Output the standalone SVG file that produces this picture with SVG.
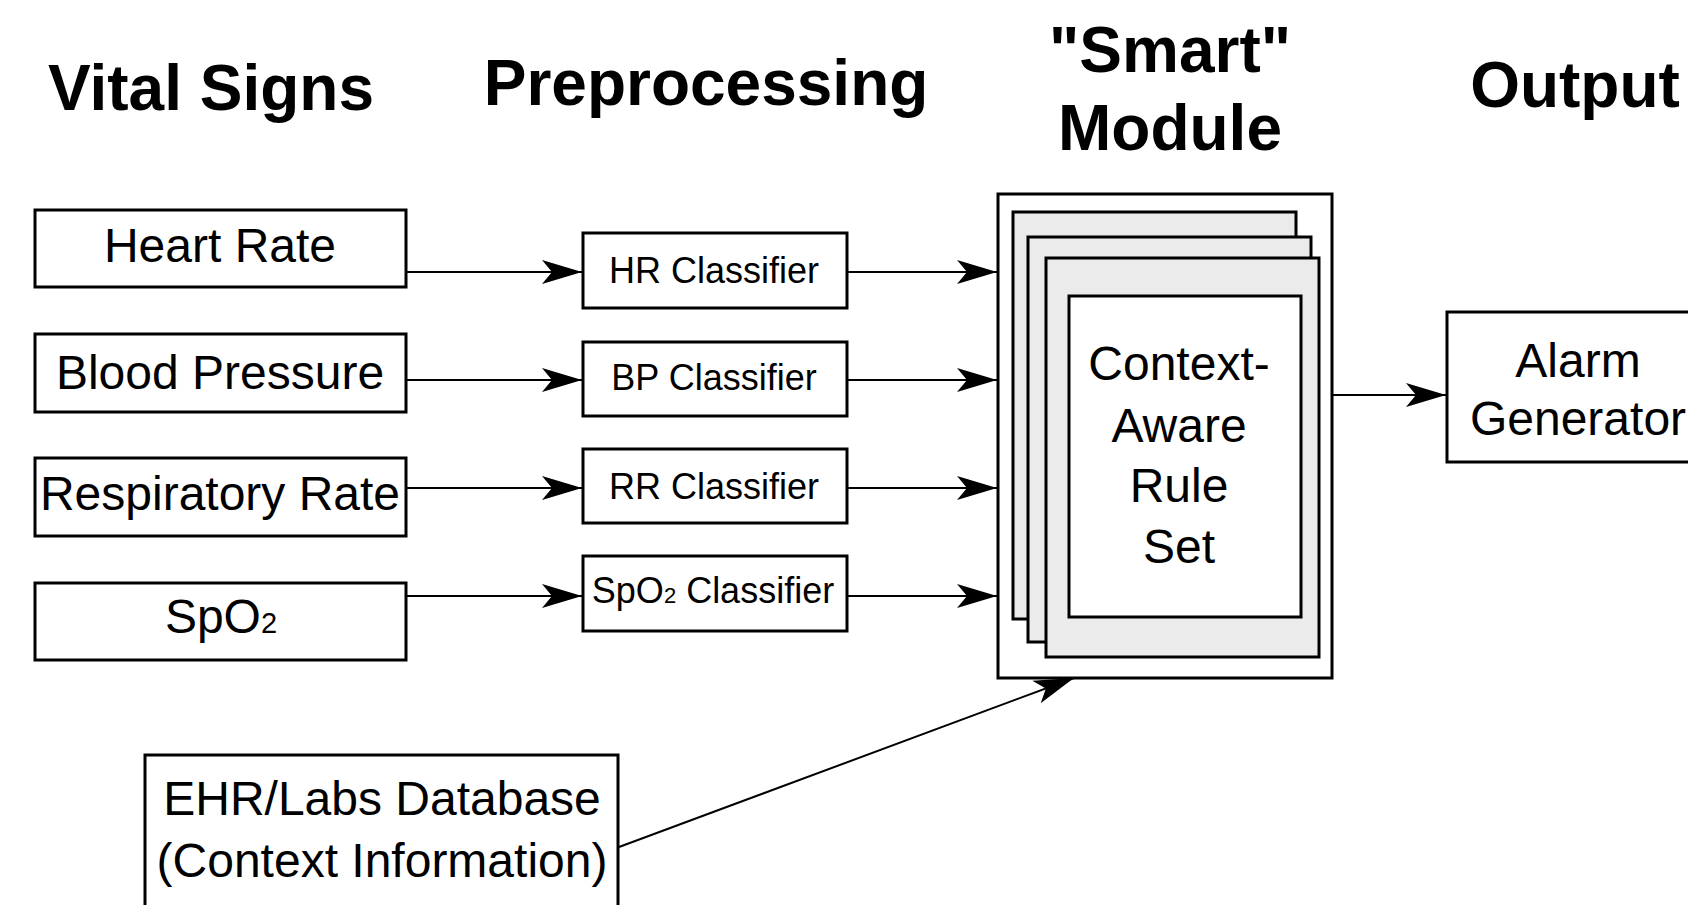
<svg xmlns="http://www.w3.org/2000/svg" width="1688" height="905" viewBox="0 0 1688 905">
<style>
  .box { fill: #ffffff; stroke: #000000; stroke-width: 3; }
  .sheet { fill: #ebebeb; stroke: #000000; stroke-width: 3; }
  .conn { fill: none; stroke: #000000; stroke-width: 2; }
  .title { font-family: "Liberation Sans", Arial, sans-serif; font-weight: bold; font-size: 64px; fill: #000; text-anchor: middle; }
  .lbl { font-family: "Liberation Sans", Arial, sans-serif; font-size: 48px; fill: #000; text-anchor: middle; }
  .cls { font-family: "Liberation Sans", Arial, sans-serif; font-size: 36px; fill: #000; text-anchor: middle; }
</style>
<defs>
  <marker id="arr" markerUnits="userSpaceOnUse" markerWidth="44" markerHeight="30" viewBox="-42 -15 44 30" refX="0" refY="0" orient="auto">
    <path d="M0,0 L-40,-12 L-30,0 L-40,12 Z" fill="#000"/>
  </marker>
</defs>
<rect width="1688" height="905" fill="#ffffff"/>

<g id="headers">
  <text class="title" x="211" y="110">Vital Signs</text>
  <text class="title" x="706" y="105">Preprocessing</text>
  <text class="title" x="1170" y="72">"Smart"</text>
  <text class="title" x="1170" y="150">Module</text>
  <text class="title" x="1575" y="107">Output</text>
</g>

<g id="connectors">
  <line class="conn" x1="406" y1="272" x2="582" y2="272" marker-end="url(#arr)"/>
  <line class="conn" x1="406" y1="380" x2="582" y2="380" marker-end="url(#arr)"/>
  <line class="conn" x1="406" y1="488" x2="582" y2="488" marker-end="url(#arr)"/>
  <line class="conn" x1="406" y1="596" x2="582" y2="596" marker-end="url(#arr)"/>
  <line class="conn" x1="847" y1="272" x2="997" y2="272" marker-end="url(#arr)"/>
  <line class="conn" x1="847" y1="380" x2="997" y2="380" marker-end="url(#arr)"/>
  <line class="conn" x1="847" y1="488" x2="997" y2="488" marker-end="url(#arr)"/>
  <line class="conn" x1="847" y1="596" x2="997" y2="596" marker-end="url(#arr)"/>
  <line class="conn" x1="1332" y1="395" x2="1446" y2="395" marker-end="url(#arr)"/>
  <line class="conn" x1="619" y1="847" x2="1074" y2="678" marker-end="url(#arr)"/>
</g>

<g id="heart-rate">
  <rect class="box" x="35" y="210" width="371" height="77"/>
  <text class="lbl" x="220" y="262">Heart Rate</text>
</g>
<g id="blood-pressure">
  <rect class="box" x="35" y="334" width="371" height="78"/>
  <text class="lbl" x="220" y="389">Blood Pressure</text>
</g>
<g id="respiratory-rate">
  <rect class="box" x="35" y="458" width="371" height="78"/>
  <text class="lbl" x="220" y="510">Respiratory Rate</text>
</g>
<g id="spo2">
  <rect class="box" x="35" y="583" width="371" height="77"/>
  <text class="lbl" x="221" y="633">SpO<tspan font-size="29">2</tspan></text>
</g>

<g id="hr-classifier">
  <rect class="box" x="583" y="233" width="264" height="75"/>
  <text class="cls" x="714" y="283">HR Classifier</text>
</g>
<g id="bp-classifier">
  <rect class="box" x="583" y="342" width="264" height="74"/>
  <text class="cls" x="714" y="390">BP Classifier</text>
</g>
<g id="rr-classifier">
  <rect class="box" x="583" y="449" width="264" height="74"/>
  <text class="cls" x="714" y="499">RR Classifier</text>
</g>
<g id="spo2-classifier">
  <rect class="box" x="583" y="556" width="264" height="75"/>
  <text class="cls" x="713" y="603">SpO<tspan font-size="22">2</tspan> Classifier</text>
</g>

<g id="smart-module">
  <rect class="box" x="998" y="194" width="334" height="484"/>
  <rect class="sheet" x="1013" y="212" width="283" height="407"/>
  <rect class="sheet" x="1028" y="237" width="283" height="405"/>
  <rect class="sheet" x="1046" y="258" width="273" height="399"/>
  <rect class="box" x="1069" y="296" width="232" height="321"/>
  <text class="lbl" x="1179" y="380">Context-</text>
  <text class="lbl" x="1179" y="442">Aware</text>
  <text class="lbl" x="1179" y="502">Rule</text>
  <text class="lbl" x="1179" y="563">Set</text>
</g>

<g id="alarm-generator">
  <rect class="box" x="1447" y="312" width="262" height="150"/>
  <text class="lbl" x="1578" y="377">Alarm</text>
  <text class="lbl" x="1578" y="435">Generator</text>
</g>

<g id="ehr-database">
  <rect class="box" x="145" y="755" width="473" height="170"/>
  <text class="lbl" x="382" y="815">EHR/Labs Database</text>
  <text class="lbl" x="382" y="877">(Context Information)</text>
</g>
</svg>
